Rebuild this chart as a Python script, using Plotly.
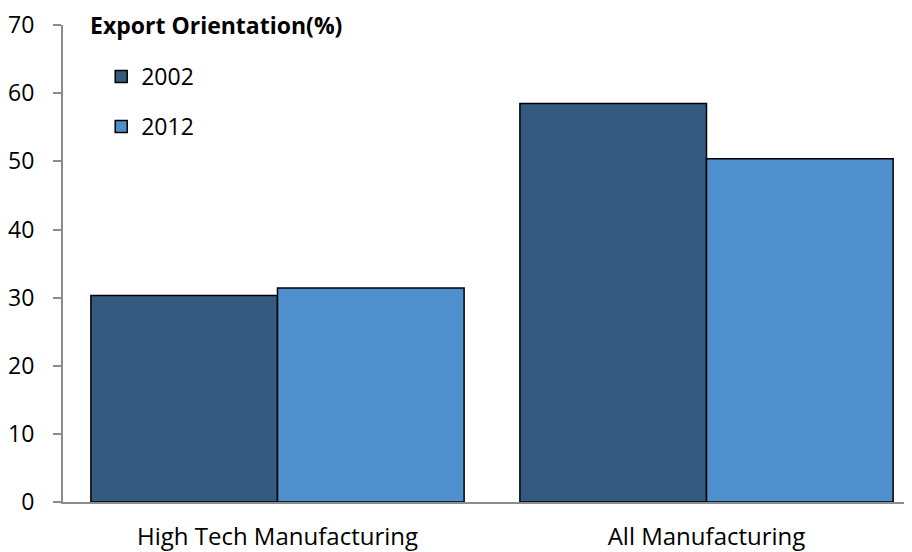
import plotly.graph_objects as go

categories = ["High Tech Manufacturing", "All Manufacturing"]
v2002 = [30.3, 58.5]
v2012 = [31.4, 50.4]
series_names = ["2002", "2012"]
colors = ["#345A80", "#4F8FCC"]
y_ticks = [0, 10, 20, 30, 40, 50, 60, 70]
title_text = "<b>Export Orientation(%)</b>"
font_family = "Open Sans, Noto Sans, sans-serif"

fig = go.Figure()
for name, vals, col in zip(series_names, [v2002, v2012], colors):
    fig.add_trace(go.Bar(
        x=categories, y=vals, name=name, legendgroup=name,
        marker=dict(color=col, line=dict(color="black", width=1.5)),
    ))

fig.update_layout(
    width=904, height=544,
    margin=dict(l=53, r=0, t=16, b=50),
    paper_bgcolor="white", plot_bgcolor="white",
    barmode="group", bargap=0.13, bargroupgap=0,
    font=dict(family=font_family, size=23, color="black"),
    showlegend=True,
    legend=dict(x=0.045, y=0.937, xanchor="left", yanchor="top",
                bgcolor="rgba(0,0,0,0)", font=dict(size=23),
                tracegroupgap=17, traceorder="grouped", itemwidth=30),
)
fig.add_annotation(text=title_text, xref="paper", yref="paper",
                   x=(88 - 61 - 2) / 851, y=1.0, xanchor="left", yanchor="middle",
                   showarrow=False, font=dict(size=23))
fig.update_xaxes(range=[-0.5, 1.479], showline=True, linecolor="#8c8c8c",
                 linewidth=2, ticks="", showgrid=False, zeroline=False,
                 tickfont=dict(size=24), ticklabelstandoff=12)
fig.update_yaxes(range=[0, 70.02], tickvals=y_ticks, showline=True, linecolor="#8c8c8c",
                 linewidth=2, ticks="outside", ticklen=8, tickwidth=1.5,
                 tickcolor="#8c8c8c", showgrid=False, zeroline=False,
                 tickfont=dict(size=23), ticklabelstandoff=14,
                 ticklabeloverflow="allow")

fig.write_html("out.html")
